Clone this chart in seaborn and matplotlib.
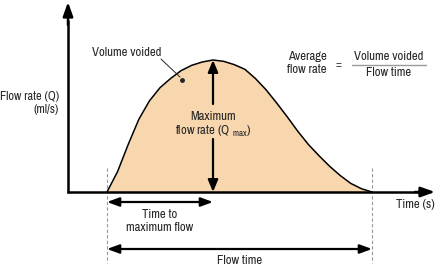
import matplotlib
matplotlib.use("Agg")
import matplotlib.pyplot as plt
import seaborn as sns
import pandas as pd

# --- data (time in s, flow rate in ml/s) ---
time_s = [0, 1, 2, 3, 4, 5, 6, 7, 8, 9, 10, 11, 12, 13, 14, 15, 16, 17, 18, 19, 20, 21, 22, 23, 24, 25]
flow_ml_s = [0, 3.1, 7.2, 11.0, 13.8, 15.8, 17.2, 18.4, 19.2, 19.7, 20.0, 19.8, 19.3, 18.6, 17.2,
             15.5, 13.5, 11.4, 9.2, 7.2, 5.5, 3.9, 2.5, 1.3, 0.5, 0]
flow_start = 0
flow_end = 25
t_max = 10
q_max = 20

fill_color = "#F8D7AF"
txt_color = "#262626"

sns.set_theme(style="white")
plt.rcParams["font.family"] = ["Archivo Narrow", "DejaVu Sans"]
fs = 9.2

fig = plt.figure(figsize=(4.36, 2.65), dpi=100)
ax = fig.add_axes([0, 0, 1, 1])
df = pd.DataFrame({"t": time_s, "q": flow_ml_s})

ax.fill_between(df["t"], df["q"], 0, color=fill_color, lw=0, zorder=1)
sns.lineplot(data=df, x="t", y="q", ax=ax, color="black", lw=1.1, zorder=3)

xpx = 10.6   # px per second
ypx = 6.6    # px per ml/s
ax.set_xlim(-107 / xpx, (436 - 107) / xpx)
ax.set_ylim(-(265 - 192) / ypx, 192 / ypx)
ax.set_axis_off()

def X(px):
    return (px - 107) / xpx

def Y(py):
    return (192 - py) / ypx

arrow_kw = dict(arrowstyle="-|>,head_length=0.6,head_width=0.25", color="black", lw=1.6,
                shrinkA=0, shrinkB=0)
# axes
ax.plot([X(68), X(68)], [Y(193), Y(20)], color="black", lw=1.8, solid_capstyle="butt", zorder=4)
ax.annotate("", xy=(X(68), Y(2)), xytext=(X(68), Y(25)),
            arrowprops=dict(arrowstyle="-|>,head_length=0.7,head_width=0.25", color="black", lw=1.8,
                            shrinkA=0, shrinkB=0), zorder=4)
ax.plot([X(67), X(420)], [0, 0], color="black", lw=1.8, solid_capstyle="butt", zorder=4)
ax.annotate("", xy=(X(435), 0), xytext=(X(415), 0),
            arrowprops=dict(arrowstyle="-|>,head_length=0.7,head_width=0.25", color="black", lw=1.8,
                            shrinkA=0, shrinkB=0), zorder=4)

# dashed verticals
for t in (flow_start, flow_end):
    ax.plot([t, t], [Y(168), Y(263)], color="#999999", lw=0.8, ls=(0, (3, 2)), zorder=2)

# Qmax arrow (broken around label)
ax.annotate("", xy=(t_max, q_max), xytext=(t_max, Y(104)), arrowprops=arrow_kw, zorder=4)
ax.annotate("", xy=(t_max, 0), xytext=(t_max, Y(139)), arrowprops=arrow_kw, zorder=4)
ax.text(t_max, Y(116), "Maximum", ha="center", va="center", fontsize=fs, color=txt_color)
ax.text(t_max, Y(131), "flow rate (Q $_{\\mathregular{max}}$)", ha="center", va="center",
        fontsize=fs, color=txt_color)

# time to max flow
ax.annotate("", xy=(flow_start, Y(202)), xytext=(t_max, Y(202)),
            arrowprops=dict(arrowstyle="<|-|>,head_length=0.6,head_width=0.22", color="black",
                            lw=1.6, shrinkA=0, shrinkB=0))
ax.text((flow_start + t_max) / 2, Y(221), "Time to\nmaximum flow", ha="center", va="center",
        fontsize=fs, color=txt_color, linespacing=1.3)

# flow time
ax.annotate("", xy=(flow_start, Y(249)), xytext=(flow_end, Y(249)),
            arrowprops=dict(arrowstyle="<|-|>,head_length=0.6,head_width=0.22", color="black",
                            lw=1.6, shrinkA=0, shrinkB=0))
ax.text((flow_start + flow_end) / 2, Y(260), "Flow time", ha="center", va="center",
        fontsize=fs, color=txt_color)

# axis labels
ax.text(X(59), Y(103), "Flow rate (Q)\n(ml/s)", ha="right", va="center", fontsize=8.9,
        color=txt_color, linespacing=1.3)
ax.text(X(435), Y(205), "Time (s)", ha="right", va="center", fontsize=fs, color=txt_color)

# volume voided label
ax.text(X(127), Y(53), "Volume voided", ha="center", va="center", fontsize=fs, color=txt_color)
ax.plot([X(161), X(180)], [Y(59), Y(77)], color=txt_color, lw=0.7, zorder=4)
ax.plot([X(182)], [Y(80)], marker="o", ms=2.5, color=txt_color, zorder=4)

# average flow rate formula
ax.text(X(307), Y(63), "Average\nflow rate", ha="center", va="center", fontsize=fs,
        color=txt_color, linespacing=1.3)
ax.text(X(339), Y(65), "=", ha="center", va="center", fontsize=fs, color="#444444")
ax.text(X(389), Y(57), "Volume voided", ha="center", va="center", fontsize=fs, color=txt_color)
ax.plot([X(352), X(426)], [Y(65), Y(65)], color="#999999", lw=1.0)
ax.text(X(389), Y(72), "Flow time", ha="center", va="center", fontsize=fs, color=txt_color)

fig.savefig("out.png", dpi=100)
